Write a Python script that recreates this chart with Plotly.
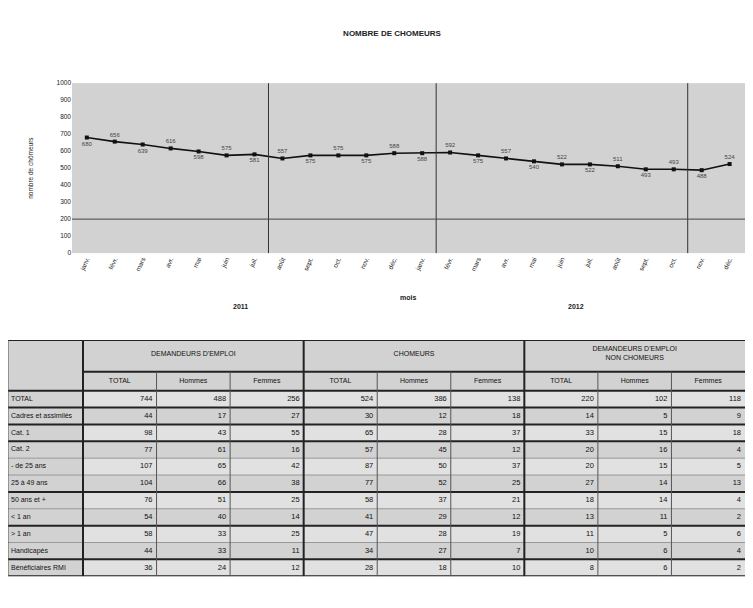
import plotly.graph_objects as go

FONT = "Arial, Liberation Sans, sans-serif"

# --- chart data --------------------------------------------------------------
MONTHS = ["janv.", "févr.", "mars", "avr.", "mai", "juin",
          "juil.", "août", "sept.", "oct.", "nov.", "déc."] * 2
YEARS = ["2011", "2012"]
CHOMEURS = [680, 656, 639, 616, 598, 575, 581, 557, 575, 575, 575, 588,
            588, 592, 575, 557, 540, 522, 522, 511, 493, 493, 488, 524]
MARK_AFTER = [6, 12, 21]  # vertical separators after these months
REF_LEVEL = 200

# --- table data --------------------------------------------------------------
GROUPS = ["DEMANDEURS D'EMPLOI", "CHOMEURS", "DEMANDEURS D'EMPLOI<br>NON CHOMEURS"]
SUBCOLS = ["TOTAL", "Hommes", "Femmes"]
ROW_LABELS = ["TOTAL", "Cadres et assimilés", "Cat. 1", "Cat. 2", "- de 25 ans",
              "25 à 49 ans", "50 ans et +", "< 1 an", "> 1 an", "Handicapés",
              "Bénéficiaires RMI"]
DEMANDEURS = [[744, 488, 256], [44, 17, 27], [98, 43, 55], [77, 61, 16], [107, 65, 42],
              [104, 66, 38], [76, 51, 25], [54, 40, 14], [58, 33, 25], [44, 33, 11],
              [36, 24, 12]]
CHOM = [[524, 386, 138], [30, 12, 18], [65, 28, 37], [57, 45, 12], [87, 50, 37],
        [77, 52, 25], [58, 37, 21], [41, 29, 12], [47, 28, 19], [34, 27, 7],
        [28, 18, 10]]
NON_CHOM = [[220, 102, 118], [14, 5, 9], [33, 15, 18], [20, 16, 4], [20, 15, 5],
            [27, 14, 13], [18, 14, 4], [13, 11, 2], [11, 5, 6], [10, 6, 4],
            [8, 6, 2]]
THICK_AFTER = [0, 1, 2, 5, 7, 9]  # row indexes followed by a heavy rule

# the page body has an 8px margin on every side; keep the figure inside the
# window so no scrollbar eats into it
OFF = 8
W, H = 753 - 2 * OFF, 608 - 2 * OFF


def px_x(px):
    return min(1.0, (px - OFF) / W)


def px_y(py):
    return 1 - (py - OFF) / H


fig = go.Figure()

# --- line chart --------------------------------------------------------------
xs = list(range(len(CHOMEURS)))
fig.add_trace(go.Scatter(
    x=xs, y=CHOMEURS, mode="lines+markers+text",
    line=dict(color="#111111", width=1.6),
    marker=dict(symbol="square", size=4, color="#111111"),
    text=[str(v) for v in CHOMEURS],
    textposition=["bottom center" if i % 2 == 0 else "top center" for i in xs],
    textfont=dict(size=6, color="#444444", family=FONT),
    cliponaxis=False, showlegend=False, hoverinfo="x+y",
))

for m in MARK_AFTER:
    fig.add_shape(type="line", xref="x", yref="y domain", x0=m + 0.5, x1=m + 0.5,
                  y0=0, y1=1, line=dict(color="#333333", width=1))
fig.add_shape(type="line", xref="x domain", yref="y", x0=0, x1=1,
              y0=REF_LEVEL, y1=REF_LEVEL, line=dict(color="#444444", width=1))

for i, yr in enumerate(YEARS):
    fig.add_annotation(x=i * 12 + 5.5, xref="x", y=px_y(306), yref="paper",
                       text=f"<b>{yr}</b>", showarrow=False,
                       font=dict(size=7, color="#222222", family=FONT))
fig.add_annotation(x=0.5 * (len(xs) - 1), xref="x", y=px_y(297), yref="paper",
                   text="<b>mois</b>", showarrow=False,
                   font=dict(size=7, color="#222222", family=FONT))

# --- table (x2/y2 units are pixels inside the figure) ------------------------
label_w = 75
col_w = (W - label_w) / 9
head_h, sub_h, row_h = 32, 19, 17
top = head_h + sub_h
col_edges = [label_w + k * col_w for k in range(10)]
bottom = top + len(ROW_LABELS) * row_h

for r in range(len(ROW_LABELS)):
    if r % 2 == 0:
        fig.add_shape(type="rect", xref="x2", yref="y2", x0=label_w, x1=W,
                      y0=top + r * row_h, y1=top + (r + 1) * row_h,
                      fillcolor="#e1e1e1", line=dict(width=0), layer="below")

# horizontal rules
fig.add_shape(type="line", xref="x2", yref="y2", x0=0, x1=W, y0=0, y1=0,
              line=dict(color="#222222", width=2))
fig.add_shape(type="line", xref="x2", yref="y2", x0=label_w, x1=W, y0=head_h, y1=head_h,
              line=dict(color="#222222", width=2))
fig.add_shape(type="line", xref="x2", yref="y2", x0=0, x1=W, y0=top, y1=top,
              line=dict(color="#222222", width=2))
for r in range(len(ROW_LABELS)):
    yb = top + (r + 1) * row_h
    heavy = r in THICK_AFTER or r == len(ROW_LABELS) - 1
    fig.add_shape(type="line", xref="x2", yref="y2", x0=0, x1=W, y0=yb, y1=yb,
                  line=dict(color="#222222" if heavy else "#999999", width=2 if heavy else 1))

# vertical rules
fig.add_shape(type="line", xref="x2", yref="y2", x0=0, x1=0, y0=0, y1=bottom,
              line=dict(color="#555555", width=1))
for k, xe in enumerate(col_edges[:-1]):
    group_edge = k % 3 == 0
    fig.add_shape(type="line", xref="x2", yref="y2", x0=xe, x1=xe,
                  y0=0 if group_edge else head_h, y1=bottom,
                  line=dict(color="#222222" if group_edge else "#555555",
                            width=2 if group_edge else 1))

text_style = dict(xaxis="x2", yaxis="y2", mode="text", cliponaxis=False,
                  showlegend=False, hoverinfo="skip")

# header texts
fig.add_trace(go.Scatter(
    x=[label_w + (g * 3 + 1.5) * col_w for g in range(3)], y=[14] * 3,
    text=GROUPS, textposition="middle center",
    textfont=dict(size=7, color="#111111", family=FONT), **text_style,
))
fig.add_trace(go.Scatter(
    x=[label_w + (k + 0.5) * col_w for k in range(9)], y=[head_h + sub_h / 2] * 9,
    text=SUBCOLS * 3, textposition="middle center",
    textfont=dict(size=7, color="#111111", family=FONT), **text_style,
))

# row labels and values
row_y = [top + (r + 0.5) * row_h for r in range(len(ROW_LABELS))]
fig.add_trace(go.Scatter(
    x=[3] * len(ROW_LABELS), y=row_y, text=ROW_LABELS, textposition="middle right",
    textfont=dict(size=7, color="#111111", family=FONT), **text_style,
))
for g, block in enumerate([DEMANDEURS, CHOM, NON_CHOM]):
    for k in range(3):
        col = g * 3 + k
        fig.add_trace(go.Scatter(
            x=[col_edges[col + 1] - 4] * len(block), y=row_y,
            text=[str(row[k]) for row in block], textposition="middle left",
            textfont=dict(size=7.5, color="#111111", family=FONT), **text_style,
        ))

fig.update_layout(
    width=W, height=H,
    margin=dict(l=0, r=0, t=0, b=0),
    paper_bgcolor="white",
    plot_bgcolor="#d2d2d2",
    font=dict(family=FONT, size=7, color="#222222"),
    title=dict(text="<b>NOMBRE DE CHOMEURS</b>", x=px_x(392), y=px_y(33),
               xanchor="center", yanchor="middle", font=dict(size=8, color="#222222")),
    xaxis=dict(domain=[px_x(72), px_x(750)], range=[-0.53, 23.55],
               tickvals=xs, ticktext=MONTHS, tickangle=-65,
               showgrid=False, zeroline=False, ticks="", tickfont=dict(size=6.5)),
    yaxis=dict(domain=[px_y(252), px_y(80)], range=[0, 1000], dtick=100,
               showgrid=False, zeroline=False, ticks="", tickfont=dict(size=6.5),
               title=dict(text="nombre de chômeurs", font=dict(size=6.5), standoff=22)),
    xaxis2=dict(domain=[0, 1], range=[0, W], visible=False, fixedrange=True),
    yaxis2=dict(domain=[px_y(579), px_y(340)], range=[bottom, 0], visible=False,
                fixedrange=True),
)

fig.write_html("out.html")
